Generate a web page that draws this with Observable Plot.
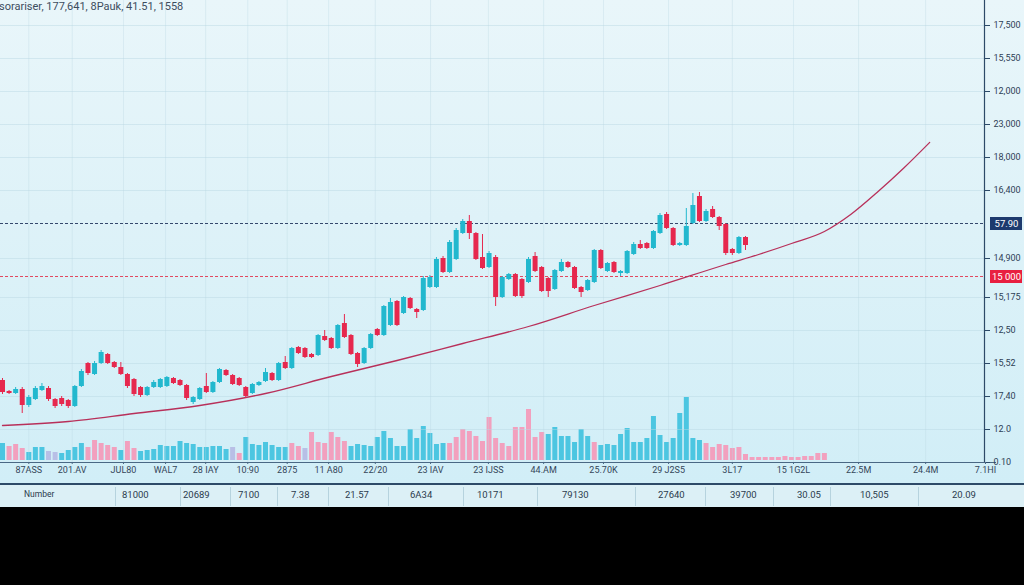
<!DOCTYPE html>
<html><head><meta charset="utf-8">
<script src="https://cdn.jsdelivr.net/npm/d3@7"></script>
<script src="https://cdn.jsdelivr.net/npm/@observablehq/plot@0.6"></script>
<style>
html,body{margin:0;padding:0;background:#000;}
#wrap{position:relative;width:1024px;height:585px;overflow:hidden;background:#000;font-family:Roboto,"Open Sans",sans-serif;}
#chartbg{position:absolute;left:0;top:0;width:1024px;height:483px;background:linear-gradient(180deg,#e9f6fa 0%,#def2f8 45%,#d1eef7 100%);}
#vol{position:absolute;left:0;top:360px;}
#price{position:absolute;left:0;top:0;}
#title{position:absolute;left:-1px;top:0px;font-size:11px;color:#3d4d5e;white-space:nowrap;}
#table{position:absolute;left:0;top:483px;width:1024px;height:22px;background:#dcf0f6;border-top:2px solid #2d4a68;}
#table .cell{position:absolute;top:4px;font-size:9.5px;color:#2b3b4d;white-space:nowrap;}
#table .sep{position:absolute;top:2px;width:1px;height:19px;background:#b6d3de;}
</style></head>
<body>
<div id="wrap">
  <div id="chartbg"></div>
  <div id="vol"></div>
  <div id="price"></div>
  <div id="title"></div>
  <div id="table"></div>
</div>
<script>
// ---------- data ----------
const titleText = "sorariser, 177,641, 8Pauk, 41.51, 1558";

const openV  = [82,71,69,73,57,63,72,74,63,64, 62,56,76,99,88,99,108,100,95,88, 83,75,67,75,75,76,84,82,77,60,
  63,76,70,80,92,87,84,75,69,77, 81,89,82,100,94,115,114,108,107,126, 124,114,139,127,109,99,114,133,127,137,
  161,149,164,153,152,175,175,204,190,203, 229,241,229,205,195,205,165,183,188,183, 180,206,195,184,173,191,200,195,175,172,
  180,212,191,200,189,189,208,218,219,214, 229,248,234,217,217,239,266,241,253,245, 238,213,209,225];
const closeV = [70,69,73,57,65,74,76,63,56,58, 56,76,91,89,99,110,99,95,88,76, 68,67,75,80,83,85,79,77,64,65,
  74,70,80,93,87,78,77,66,78,80, 90,82,99,94,114,109,105,105,127,122, 114,137,125,108,98,114,128,127,156,160,
  137,165,154,150,184,185,203,190,220,232, 241,229,203,194,209,165,185,188,166,166, 203,191,171,171,192,200,195,174,170,182,
  212,194,199,190,191,211,218,214,214,231, 247,234,217,219,236,257,241,251,245,236, 209,209,225,217];
const highV  = [84,72,75,75,67,76,79,76,64,66, 63,77,93,100,101,112,109,101,100,89, 84,76,76,82,84,86,85,83,78,66,
  75,89,81,94,93,88,85,76,79,81, 94,90,100,106,115,116,115,109,128,132, 125,138,148,128,110,115,129,134,157,164,
  162,166,165,154,186,187,205,206,222,234, 243,247,230,228,211,207,186,189,189,184, 205,210,196,185,193,203,201,196,176,183,
  213,213,200,201,192,212,220,222,220,232, 249,250,235,220,254,269,270,253,256,246, 239,214,226,226];
const lowV   = [68,68,68,49,55,62,71,61,54,56, 54,55,75,87,87,98,98,94,87,74, 66,65,66,74,74,75,78,76,62,58,
  62,69,69,79,86,77,76,64,68,76, 80,81,81,93,93,108,104,104,106,121, 113,113,124,107,95,98,113,126,126,136,
  136,148,153,144,151,174,174,189,189,202, 228,223,202,193,194,156,164,182,165,164, 179,190,170,165,172,190,194,173,165,171,
  179,193,190,189,186,188,207,213,213,213, 228,233,216,216,216,238,240,240,244,232, 207,207,208,212];

const volumeV = [17,14,16,12,8,13,13,9,8,7, 10,13,17,13,20,17,15,13,10,19, 12,9,10,11,15,14,14,19,17,16,
  13,13,14,14,11,13,7,23,16,15, 18,15,13,13,17,14,12,28,18,17, 28,23,19,14,16,15,14,23,29,22,
  14,14,31,22,34,27,16,17,17,23, 31,29,24,19,43,22,17,14,33,33, 51,23,28,26,33,24,24,18,31,24,
  18,15,16,15,26,32,18,18,22,44, 25,18,22,47,63,22,20,17,13,16, 15,12,13,6,
  3,3,3,3,3,4,3,3,4,4,7,7];
const volumeKind = ("cpppcccllc" + "cccpppppcp" + "pccccccccc" + "ccccclpccc" + "ccccpplppp" + "pppccccccc" +
  "ccccccccpp" + "pppppppppp" + "pppccccccc" + "pccccccccc" + "cccccccppp" + "pppp" + "pppppppppppp").split("");

const maIndex = [0,10,20,30,40,50,60,70,80,90,100,110,115,120,125,129,133,137,141];
const maValue = [37,41,49,57,69,86,102,119,136,157,177,198,208,219,231,248,270,294,320];

const navyLevel = 239, navyLabel = "57.90";
const redLevel = 186, redLabel = "15 000";

const yTickValues = [0,33,66,99,132,165,204,272,305,338,371,404,437];
const yTickLabels = ["0.10","12.0","17,40","15,52","12,50","15,175","14,900","16,400","18,000","23,000","12,000","15,550","17,500"];

const xTickValues = [4,10.6,18.4,24.8,30.9,37.3,43.3,49.6,56.7,65.1,73.9,82.3,91.4,101.3,111,120.3,130.2,140.4,149.5];
const xTickLabels = ["87ASS","201.AV","JUL80","WAL7","28 IAY","10:90","2875","11 A80","22/20","23 IAV","23 IJSS","44.AM","25.70K","29 J2S5","3L17","15 1G2L","22.5M","24.4M","7.1HI"];

const tableCells = ["Number","81000","20689","7100","7.38","21.57","6A34","10171","79130","27640","39700","30.05","10,505","20.09"];

// ---------- layout ----------
const xDomain = [-0.304, 149.35];
const yDomain = [0, 462];
const UP = "#22b8ce", DOWN = "#e6284e";
const VOLC = {c: "#4cc6e1", p: "#f2a0be", l: "#b8bfe6"};

const candles = openV.map((o, i) => ({i, o, c: closeV[i], h: highV[i], l: lowV[i]}));
const vols = volumeV.map((v, i) => ({i, v, k: volumeKind[i]}));
const ma = maIndex.map((i, j) => ({i, v: maValue[j]}));
const yLab = new Map(yTickValues.map((v, i) => [v, yTickLabels[i]]));
const xLab = new Map(xTickValues.map((v, i) => [v, xTickLabels[i]]));

document.getElementById("title").textContent = titleText;

// volume
const volPlot = Plot.plot({
  width: 1024, height: 100, marginLeft: 0, marginRight: 40, marginTop: 0, marginBottom: 0,
  x: {domain: xDomain, axis: null},
  y: {domain: [0, 100], axis: null},
  style: {background: "transparent", overflow: "visible"},
  marks: ["c", "p", "l"].map(k =>
    Plot.ruleX(vols, {filter: d => d.k === k, x: "i", y1: 0, y2: "v", stroke: VOLC[k], strokeWidth: 5})
  )
});
document.getElementById("vol").appendChild(volPlot);

// price
const up = d => d.c >= d.o, down = d => d.c < d.o;
const pricePlot = Plot.plot({
  width: 1024, height: 483, marginLeft: 0, marginRight: 40, marginTop: 0, marginBottom: 21,
  x: {domain: xDomain},
  y: {domain: yDomain},
  style: {background: "transparent", fontFamily: "Roboto, 'Open Sans', sans-serif", fontSize: "9px", overflow: "visible"},
  marks: [
    Plot.ruleY(yTickValues, {stroke: "#b9d6e2", strokeOpacity: 0.45}),
    Plot.ruleX(xTickValues.slice(0, -1), {stroke: "#b9d6e2", strokeOpacity: 0.35}),
    Plot.ruleY([navyLevel], {stroke: "#34486c", strokeDasharray: "3,2", strokeWidth: 1}),
    Plot.ruleY([redLevel], {stroke: "#e2485f", strokeDasharray: "3,2", strokeWidth: 1}),
    Plot.line(ma, {x: "i", y: "v", stroke: "#b8305a", strokeWidth: 1.3, curve: "monotone-x"}),
    Plot.ruleX(candles, {filter: up, x: "i", y1: "l", y2: "h", stroke: UP, strokeWidth: 1}),
    Plot.ruleX(candles, {filter: down, x: "i", y1: "l", y2: "h", stroke: DOWN, strokeWidth: 1}),
    Plot.ruleX(candles, {filter: up, x: "i", y1: "o", y2: "c", stroke: UP, strokeWidth: 5}),
    Plot.ruleX(candles, {filter: down, x: "i", y1: "o", y2: "c", stroke: DOWN, strokeWidth: 5}),
    Plot.ruleX([xDomain[1]], {stroke: "#2d4a68", strokeWidth: 1.2}),
    Plot.ruleY([yDomain[0]], {stroke: "#4a6884", strokeWidth: 1.2, insetRight: -12}),
    Plot.axisY({anchor: "right", ticks: yTickValues, tickFormat: d => yLab.get(d), tickSize: 5, tickPadding: 4,
      stroke: "#2d4a68", fill: "#2e4056", label: null}),
    Plot.axisX({ticks: xTickValues, tickFormat: d => xLab.get(d), tickSize: 2, tickPadding: 2,
      stroke: "#4a6884", fill: "#34465a", label: null}),
    Plot.ruleY([navyLevel], {stroke: "#1d3a6e", strokeWidth: 13, insetLeft: 990, insetRight: -38}),
    Plot.ruleY([redLevel], {stroke: "#e81f40", strokeWidth: 13, insetLeft: 990, insetRight: -38}),
    Plot.text([navyLevel], {y: d => d, text: () => navyLabel, frameAnchor: "right", dx: 22, textAnchor: "middle", fill: "white", fontSize: 9.5}),
    Plot.text([redLevel], {y: d => d, text: () => redLabel, frameAnchor: "right", dx: 22, textAnchor: "middle", fill: "white", fontSize: 9.5})
  ]
});
document.getElementById("price").appendChild(pricePlot);

// table row
const cellLeft = [24,122,183,238,291,345,410,477,562,658,730,797,860,952];
const sepLeft = [115,180,230,277,328,388,463,537,635,705,773,830,918];
const table = document.getElementById("table");
tableCells.forEach((t, i) => {
  const d = document.createElement("div");
  d.className = "cell"; d.style.left = cellLeft[i] + "px"; d.textContent = t;
  if (i === 0) d.style.fontSize = "8.5px";
  table.appendChild(d);
});
sepLeft.forEach(x => {
  const s = document.createElement("div");
  s.className = "sep"; s.style.left = x + "px";
  table.appendChild(s);
});
</script>
</body></html>
